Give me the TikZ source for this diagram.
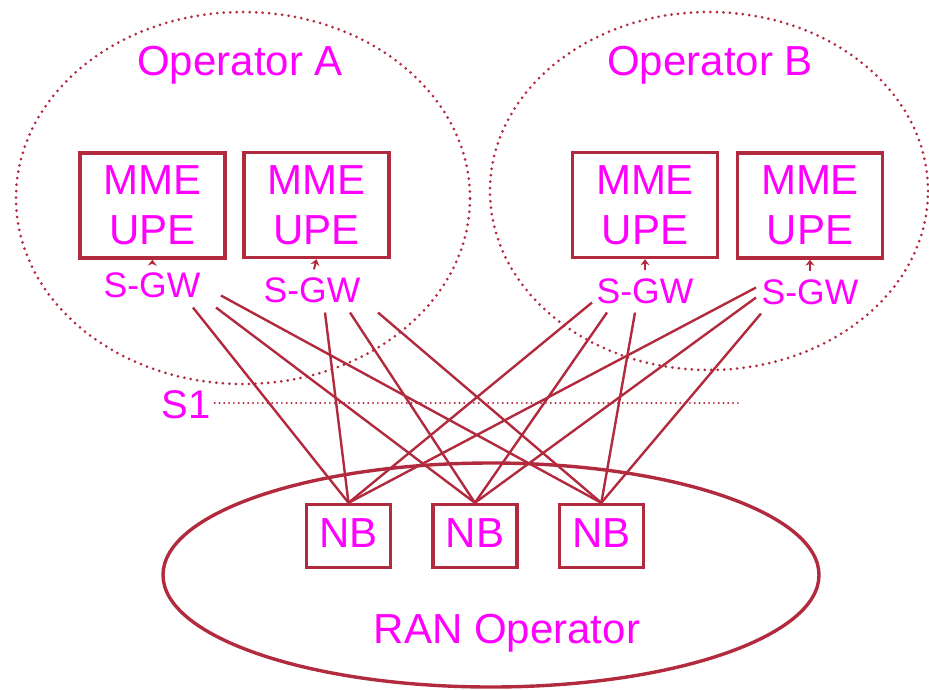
\documentclass[tikz,border=0pt]{standalone}
\usepackage{fontspec}
\setmainfont{Liberation Sans}
\usepackage{tikz}
\usetikzlibrary{positioning,arrows.meta,shapes.geometric}
\definecolor{cLink}{HTML}{B22A3E}
\definecolor{cText}{HTML}{FF00FF}

\tikzset{
  opcloud/.style={ellipse,draw=cLink,line width=3pt,line cap=round,
    dash pattern=on 0pt off 6.5pt,inner sep=0pt},
  ranshape/.style={ellipse,draw=cLink,line width=3.4pt,inner sep=0pt},
  mmebox/.style={draw=cLink,line width=3.4pt,minimum width=145pt,minimum height=105pt,
    align=center,inner sep=0pt},
  nbbox/.style={draw=cLink,line width=3.4pt,minimum width=84pt,minimum height=63pt,
    inner sep=0pt,text height=30pt,text depth=8pt},
  gwlabel/.style={font=\fontsize{35.5}{40}\selectfont,inner sep=0pt,anchor=base},
  link/.style={cLink,line width=2.4pt},
  gwtip/.style={cLink,line width=2pt,shorten <=8pt,-{Stealth[length=6pt,width=9pt]}},
}

\begin{document}
\begin{tikzpicture}[x=1pt,y=-1pt,font=\fontsize{42}{50}\selectfont,text=cText]
  \useasboundingbox (0,0) rectangle (929,689);
  % operator domains
  \node[opcloud,minimum width=454pt,minimum height=372pt] (opA) at (243,198) {};
  \node[opcloud,minimum width=438pt,minimum height=358pt] (opB) at (709,191) {};
  \node[anchor=base] (opAname) at (240,75) {Operator A};
  \node[anchor=base] (opBname) at (710,75) {Operator B};

  % RAN side
  \node[ranshape,minimum width=656pt,minimum height=224pt] (ran) at (491,575) {};
  \node[anchor=base] (ranname) at (507,643) {RAN Operator};
  \node[nbbox] (nb1) at (348.5,536) {NB};
  \node[nbbox,right=39pt of nb1] (nb2) {NB};
  \node[nbbox,right=39pt of nb2] (nb3) {NB};

  % core nodes
  \node[mmebox] (mmeA1) at (152.5,205.5) {MME\\UPE};
  \node[mmebox] (mmeA2) at (316.5,205) {MME\\UPE};
  \node[mmebox] (mmeB1) at (645,205) {MME\\UPE};
  \node[mmebox] (mmeB2) at (810,205.5) {MME\\UPE};
  \node[gwlabel] (gwA1) at (152,297) {S-GW};
  \node[gwlabel] (gwA2) at (312,302) {S-GW};
  \node[gwlabel] (gwB1) at (645,303) {S-GW};
  \node[gwlabel] (gwB2) at (810,304) {S-GW};
  \draw[gwtip] (gwA1.north) -- (mmeA1.south);
  \draw[gwtip] (gwA2.north) -- (mmeA2.south);
  \draw[gwtip] (gwB1.north) -- (mmeB1.south);
  \draw[gwtip] (gwB2.north) -- (mmeB2.south);

  % S1 reference line
  \node[font=\fontsize{40}{44}\selectfont,inner sep=0pt,anchor=base] (s1) at (186,418) {S1};
  \coordinate (s1end) at (739,403);
  \draw[cLink,line width=2.2pt,line cap=round,dash pattern=on 0pt off 4.8pt]
    ([xshift=4pt]s1.east |- s1end) -- (s1end);

  % S1 links
  \draw[link] ([shift={(-7.5,10)}]gwA1.south east) -- (nb1.north);
  \draw[link] ([shift={(15.5,10)}]gwA1.south east) -- (nb2.north);
  \draw[link] ([shift={(20.5,-2)}]gwA1.south east) -- (nb3.north);
  \draw[link] ([shift={(13,10)}]gwA2.south) -- (nb1.north);
  \draw[link] ([shift={(38,10)}]gwA2.south) -- (nb2.north);
  \draw[link] ([shift={(17.5,10)}]gwA2.south east) -- (nb3.north);
  \draw[link] ([shift={(-4.5,-1)}]gwB1.south west) -- (nb1.north);
  \draw[link] ([shift={(10.5,9)}]gwB1.south west) -- (nb2.north);
  \draw[link] ([shift={(-10,9)}]gwB1.south) -- (nb3.north);
  \draw[link] ([shift={(-5.5,-17)}]gwB2.south west) -- (nb1.north);
  \draw[link] ([shift={(-5.5,-7)}]gwB2.south west) -- (nb2.north);
  \draw[link] ([shift={(-0.5,9)}]gwB2.south west) -- (nb3.north);
\end{tikzpicture}
\end{document}
